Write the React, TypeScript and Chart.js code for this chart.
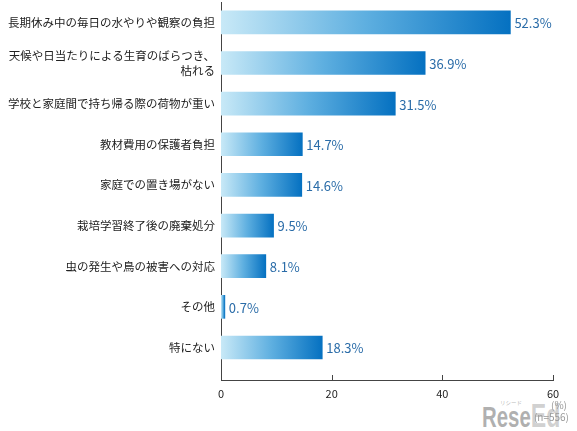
import { useEffect, useRef } from "react";
import { Chart, registerables } from "chart.js";

Chart.register(...registerables);

const categories: string[][] = [
  ["長期休み中の毎日の水やりや観察の負担"],
  ["天候や日当たりによる生育のばらつき、", "枯れる"],
  ["学校と家庭間で持ち帰る際の荷物が重い"],
  ["教材費用の保護者負担"],
  ["家庭での置き場がない"],
  ["栽培学習終了後の廃棄処分"],
  ["虫の発生や鳥の被害への対応"],
  ["その他"],
  ["特にない"],
];
const values = [52.3, 36.9, 31.5, 14.7, 14.6, 9.5, 8.1, 0.7, 18.3];
const xTicks = [0, 20, 40, 60];
const unitLabel = "(%)";
const sampleLabel = "(n=556)";

const FONT = "'Noto Sans CJK JP', 'Noto Sans', sans-serif";

export default function App() {
  const ref = useRef<HTMLCanvasElement | null>(null);

  useEffect(() => {
    if (!ref.current) return;

    const upTicks = {
      id: "upTicks",
      afterDatasetsDraw(chart: any) {
        const x = chart.scales.x;
        const ctx = chart.ctx;
        const bottom = chart.chartArea.bottom;
        ctx.save();
        ctx.strokeStyle = "#444";
        ctx.lineWidth = 1;
        x.ticks.forEach((t: any) => {
          if (t.value === 0) return;
          const px = Math.round(x.getPixelForValue(t.value)) + 0.5;
          ctx.beginPath();
          ctx.moveTo(px, bottom);
          ctx.lineTo(px, bottom - 5);
          ctx.stroke();
        });
        ctx.restore();
      },
    };

    const valueLabels = {
      id: "valueLabels",
      afterDatasetsDraw(chart: any) {
        const meta = chart.getDatasetMeta(0);
        const ctx = chart.ctx;
        ctx.save();
        ctx.font = `13px ${FONT}`;
        ctx.fillStyle = "#2a6ca8";
        ctx.textAlign = "left";
        ctx.textBaseline = "middle";
        meta.data.forEach((el: any, i: number) => {
          ctx.fillText(values[i].toFixed(1) + "%", el.x + 4, el.y + 1);
        });
        ctx.restore();
      },
    };

    const chart = new Chart(ref.current, {
      type: "bar",
      data: {
        datasets: [
          {
            data: values.map((v, i) => ({ x: v, y: i })) as any,
            barThickness: 23,
            borderWidth: 0,
            backgroundColor: (c: any) => {
              const chart = c.chart;
              const xs = chart.scales?.x;
              if (!xs || c.dataIndex === undefined) return "#3d8fd2";
              const x0 = xs.getPixelForValue(0);
              const x1 = xs.getPixelForValue(values[c.dataIndex]);
              if (!isFinite(x0) || !isFinite(x1) || x1 - x0 < 1) return "#2a7fc6";
              const g = chart.ctx.createLinearGradient(x0, 0, x1, 0);
              g.addColorStop(0, "#c8e9f7");
              g.addColorStop(0.5, "#5eafe0");
              g.addColorStop(1, "#0571c1");
              return g;
            },
          },
        ],
      },
      options: {
        indexAxis: "y",
        animation: false,
        responsive: true,
        maintainAspectRatio: false,
        layout: { padding: { top: 2, right: 24, left: 0, bottom: 0 } },
        plugins: {
          legend: { display: false },
          tooltip: { enabled: false },
        },
        scales: {
          x: {
            type: "linear",
            position: "bottom",
            min: 0,
            max: 60,
            afterBuildTicks: (s: any) => {
              s.ticks = xTicks.map((v) => ({ value: v }));
            },
            afterFit: (s: any) => {
              s.height = 51;
              s.paddingLeft = 0;
              s.paddingRight = 0;
            },
            grid: { display: false, drawTicks: false },
            border: { display: true, color: "#444", width: 1 },
            ticks: {
              padding: 7,
              color: "#222",
              font: { family: FONT, size: 11 },
            },
          },
          y: {
            type: "linear",
            reverse: true,
            offset: false,
            min: -0.5,
            max: 8.8,
            afterBuildTicks: (s: any) => {
              s.ticks = categories.map((_, i) => ({ value: i }));
            },
            afterFit: (s: any) => {
              s.width = 221;
              s.paddingTop = 0;
              s.paddingBottom = 0;
            },
            grid: { display: false, drawTicks: false, offset: false },
            border: { display: true, color: "#444", width: 1 },
            ticks: {
              padding: 6,
              color: "#222",
              font: { family: FONT, size: 11.5, lineHeight: 1.25 },
              callback: (v: any) => categories[v] ?? "",
            },
          },
        },
      } as any,
      plugins: [upTicks, valueLabels],
    });
    return () => chart.destroy();
  }, []);

  return (
    <div
      style={{
        position: "fixed",
        left: 0,
        top: 0,
        width: 577,
        height: 431,
        background: "#fff",
        overflow: "hidden",
      }}
    >
      <div
        style={{
          position: "absolute",
          left: 482,
          top: 400,
          fontFamily: "'Liberation Sans', sans-serif",
          fontWeight: "bold",
          fontSize: 30,
          lineHeight: "30px",
          whiteSpace: "nowrap",
          transform: "scaleX(0.68)",
          transformOrigin: "left top",
          color: "rgba(150,150,150,0.75)",
        }}
      >
        Rese<span style={{ color: "rgba(150,150,150,0.45)", fontSize: 34 }}>Ed</span>
      </div>
      <div
        style={{
          position: "absolute",
          left: 500,
          top: 400,
          fontFamily: FONT,
          fontSize: 5.5,
          lineHeight: "6px",
          whiteSpace: "nowrap",
          color: "rgba(150,150,150,0.7)",
        }}
      >
        リシード
      </div>
      <canvas ref={ref} style={{ position: "absolute", left: 0, top: 0 }} />
      <div
        style={{
          position: "absolute",
          right: 10,
          top: 399,
          fontFamily: FONT,
          fontSize: 10,
          lineHeight: "12px",
          color: "#999",
        }}
      >
        {unitLabel}
      </div>
      <div
        style={{
          position: "absolute",
          right: 8,
          top: 411,
          fontFamily: FONT,
          fontSize: 10,
          lineHeight: "12px",
          color: "#999",
        }}
      >
        {sampleLabel}
      </div>
    </div>
  );
}
